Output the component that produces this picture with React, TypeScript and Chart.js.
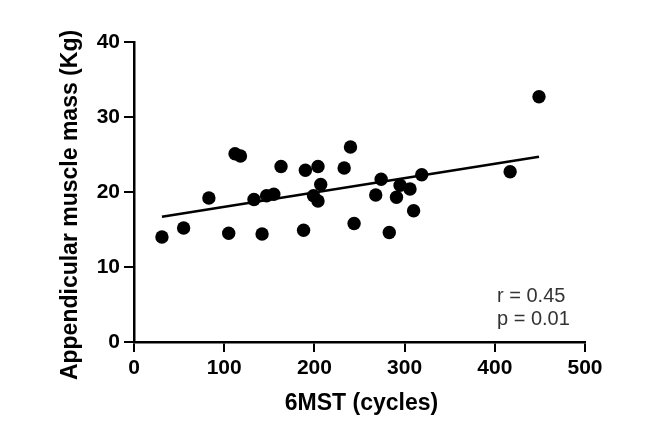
import React, { useEffect, useRef } from "react";
import { Chart, registerables } from "chart.js";

Chart.register(...registerables);

const xValues = [31, 55, 83, 105, 112, 118, 133, 142, 147, 155, 163, 188, 190, 199, 204, 204, 207, 233, 240, 244, 268, 274, 283, 291, 295, 306, 310, 319, 417, 449];
const yValues = [14.0, 15.2, 19.2, 14.5, 25.1, 24.8, 19.0, 14.4, 19.5, 19.7, 23.4, 14.9, 22.9, 19.5, 18.8, 23.4, 21.0, 23.2, 26.0, 15.8, 19.6, 21.7, 14.6, 19.3, 20.9, 20.4, 17.5, 22.3, 22.7, 32.7];
const fitX = [31, 449];
const fitY = [16.7, 24.7];
const xTitle = "6MST (cycles)";
const yTitle = "Appendicular muscle mass (Kg)";
const statLines = ["r = 0.45", "p = 0.01"];

const FONT = "'Liberation Sans', Arial, Helvetica, sans-serif";

const textPlugin = {
  id: "textPlugin",
  afterDraw(chart: any) {
    const ctx = chart.ctx;
    const area = chart.chartArea;
    ctx.save();
    ctx.fillStyle = "#000";
    ctx.font = `bold 23px ${FONT}`;
    ctx.textAlign = "center";
    ctx.textBaseline = "middle";
    // x title
    ctx.fillText(xTitle, (area.left + area.right) / 2 + 2, 404);
    // y title
    ctx.translate(71, 205);
    ctx.rotate(-Math.PI / 2);
    ctx.fillText(yTitle, 0, 0);
    ctx.restore();

    ctx.save();
    ctx.fillStyle = "#333";
    ctx.font = `20px ${FONT}`;
    ctx.textAlign = "left";
    ctx.textBaseline = "alphabetic";
    ctx.fillText(statLines[0], 497, 302);
    ctx.fillText(statLines[1], 497, 325);
    ctx.restore();
  },
};

export default function App() {
  const ref = useRef<HTMLCanvasElement | null>(null);
  useEffect(() => {
    if (!ref.current) return;
    const chart = new Chart(ref.current, {
      type: "scatter",
      data: {
        datasets: [
          {
            type: "line",
            data: fitX.map((x, i) => ({ x, y: fitY[i] })),
            borderColor: "#000",
            borderWidth: 2.5,
            pointRadius: 0,
            fill: false,
          } as any,
          {
            type: "scatter",
            data: xValues.map((x, i) => ({ x, y: yValues[i] })),
            backgroundColor: "#000",
            borderColor: "#000",
            borderWidth: 0,
            pointRadius: 6.7,
          },
        ],
      },
      options: {
        responsive: false,
        animation: false,
        devicePixelRatio: 1,
        layout: { padding: { left: 0, top: 42, right: 81, bottom: 0 } },
        plugins: { legend: { display: false }, tooltip: { enabled: false } },
        scales: {
          x: {
            type: "linear",
            min: 0,
            max: 500,
            afterFit: (s: any) => {
              s.height = 82;
            },
            ticks: {
              stepSize: 100,
              color: "#000",
              font: { family: FONT, size: 21, weight: "bold" },
              padding: 4,
            },
            grid: { drawOnChartArea: false, color: "#000", lineWidth: 2, tickLength: 10 },
            border: { color: "#000", width: 2.5 },
          },
          y: {
            type: "linear",
            min: 0,
            max: 40,
            afterFit: (s: any) => {
              s.width = 134;
            },
            ticks: {
              stepSize: 10,
              color: "#000",
              font: { family: FONT, size: 21, weight: "bold" },
              padding: 4,
            },
            grid: { drawOnChartArea: false, color: "#000", lineWidth: 2, tickLength: 10 },
            border: { color: "#000", width: 2.5 },
          },
        },
      },
      plugins: [textPlugin],
    });
    return () => chart.destroy();
  }, []);
  return (
    <div style={{ position: "fixed", left: 0, top: 0, width: 666, height: 424, background: "#fff" }}>
      <canvas ref={ref} width={666} height={424} style={{ width: 666, height: 424 }} />
    </div>
  );
}
